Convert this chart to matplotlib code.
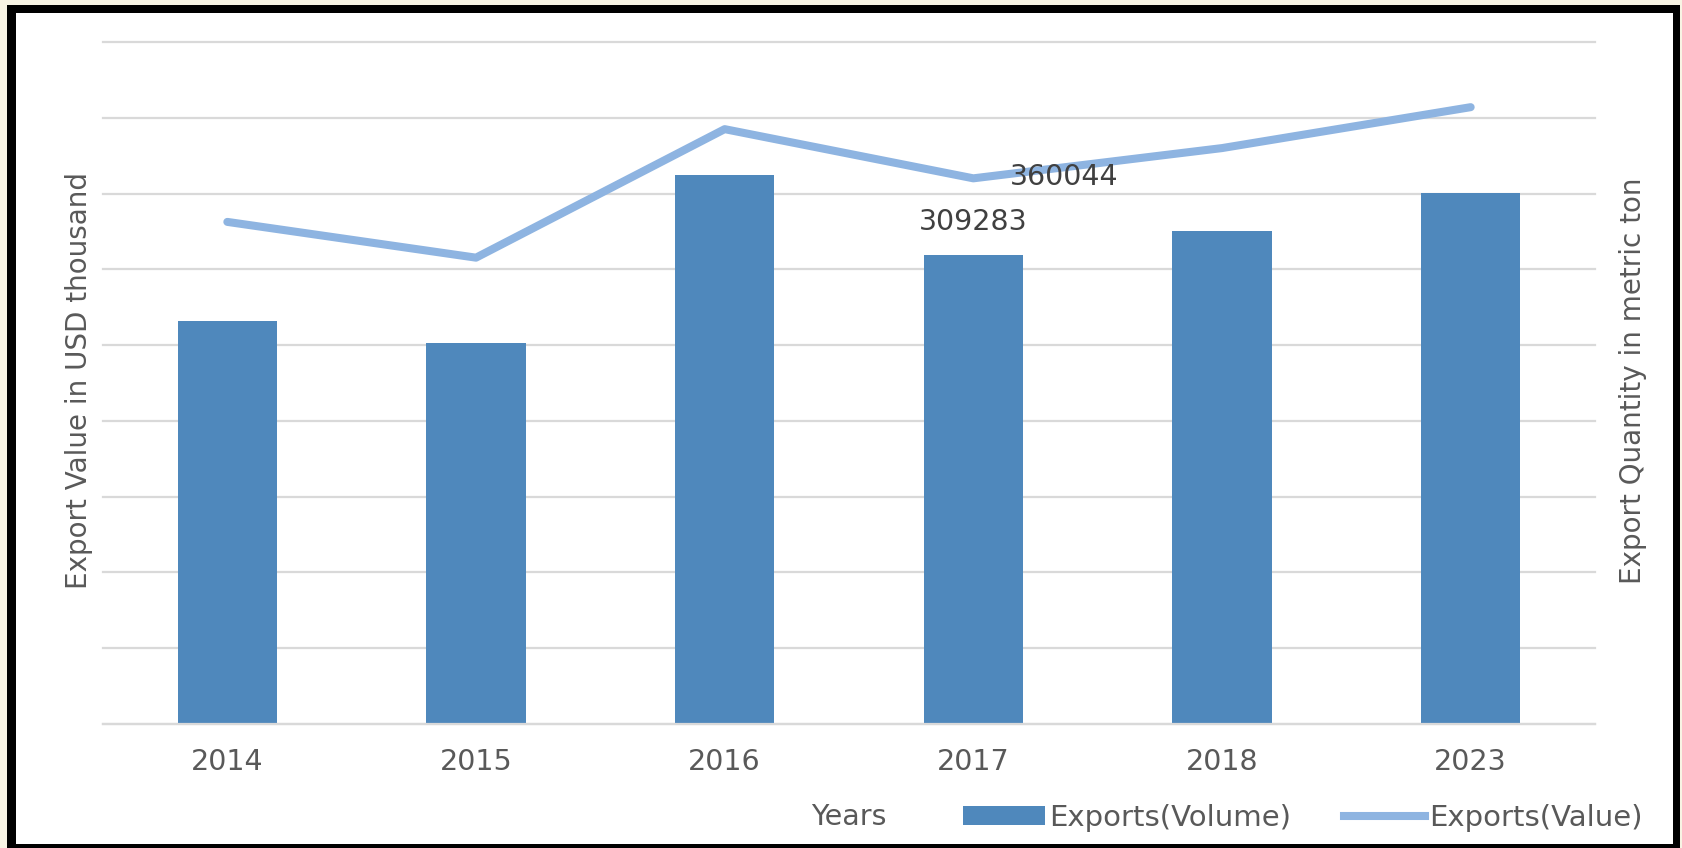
import numpy as np
import matplotlib.pyplot as plt
from matplotlib.patches import Rectangle, Patch
from matplotlib.lines import Line2D

plt.rcParams['font.family'] = 'DejaVu Sans'

years = ['2014', '2015', '2016', '2017', '2018', '2023']
volume = [266000, 251300, 362100, 309283, 325400, 350300]
value = [331300, 307700, 392500, 360044, 380000, 407000]

bar_color = '#4f88bc'
line_color = '#8eb4e1'
text_color = '#595959'
grid_color = '#d9d9d9'

W, H = 1683, 848
fig = plt.figure(figsize=(W / 100, H / 100), dpi=100, facecolor='#f8f4e4')

# black frame + white card behind everything
fig.patches.append(Rectangle((7 / W, 0), (1680 - 7) / W, (848 - 5) / H,
                             transform=fig.transFigure, facecolor='black', zorder=-10))
fig.patches.append(Rectangle((16 / W, 4 / H), (1673 - 16) / W, (844 - 13) / H,
                             transform=fig.transFigure, facecolor='white', zorder=-9))

ax = fig.add_axes([103 / W, (H - 724) / H, (1595 - 103) / W, (724 - 42) / H])
ax.patch.set_alpha(0)
x = np.arange(len(years))

ax.bar(x, volume, width=0.4, color=bar_color, zorder=2)
ax.set_xlim(-0.5, len(years) - 0.5)
ax.set_ylim(0, 450000)
ax.set_yticks(np.arange(0, 450001, 50000))
ax.yaxis.grid(True, color=grid_color, linewidth=1.6, zorder=0)
for gl in ax.get_ygridlines():
    gl.set_clip_on(False)
ax.set_axisbelow(True)
ax.tick_params(axis='y', length=0, labelleft=False)
ax.set_xticks(x)
ax.set_xticklabels(years, fontsize=20.5, color=text_color)
ax.tick_params(axis='x', length=0, pad=17)
for s in ['top', 'left', 'right']:
    ax.spines[s].set_visible(False)
ax.spines['bottom'].set_color(grid_color)
ax.spines['bottom'].set_linewidth(1.6)

ax.set_ylabel('Export Value in USD thousand', fontsize=20, color=text_color)
ax.yaxis.set_label_coords(-0.0067, 0.504)

ax2 = ax.twinx()
ax2.plot(x, value, color=line_color, linewidth=5.8, solid_capstyle='round',
         solid_joinstyle='round', zorder=3)
ax2.set_ylim(0, 450000)
ax2.set_yticks([])
for s in ax2.spines.values():
    s.set_visible(False)
ax2.set_ylabel('Export Quantity in metric ton', fontsize=20, color=text_color)
ax2.yaxis.set_label_coords(1.0161, 0.504)

ax.annotate(str(volume[3]), xy=(3, volume[3]), xytext=(0, 24), textcoords='offset points',
            ha='center', va='center', fontsize=20.5, color='#404040')
ax2.annotate(str(value[3]), xy=(3, value[3]), xytext=(26, 1), textcoords='offset points',
             ha='left', va='center', fontsize=20.5, color='#404040')

fig.text(849 / W, (H - 817) / H, 'Years', ha='center', va='center',
         fontsize=20.5, color=text_color)

handles = [Patch(facecolor=bar_color, edgecolor='none'),
           Line2D([], [], color=line_color, linewidth=5.8)]
fig.legend(handles, ['Exports(Volume)', 'Exports(Value)'], ncol=2, frameon=False,
           loc='center left', bbox_to_anchor=(963 / W, (H - 818) / H),
           fontsize=21, labelcolor=text_color, handlelength=2.8, handletextpad=0.15,
           columnspacing=1.8, borderpad=0, borderaxespad=0, handleheight=0.6)

fig.savefig('out.png', dpi=100, facecolor=fig.get_facecolor())
